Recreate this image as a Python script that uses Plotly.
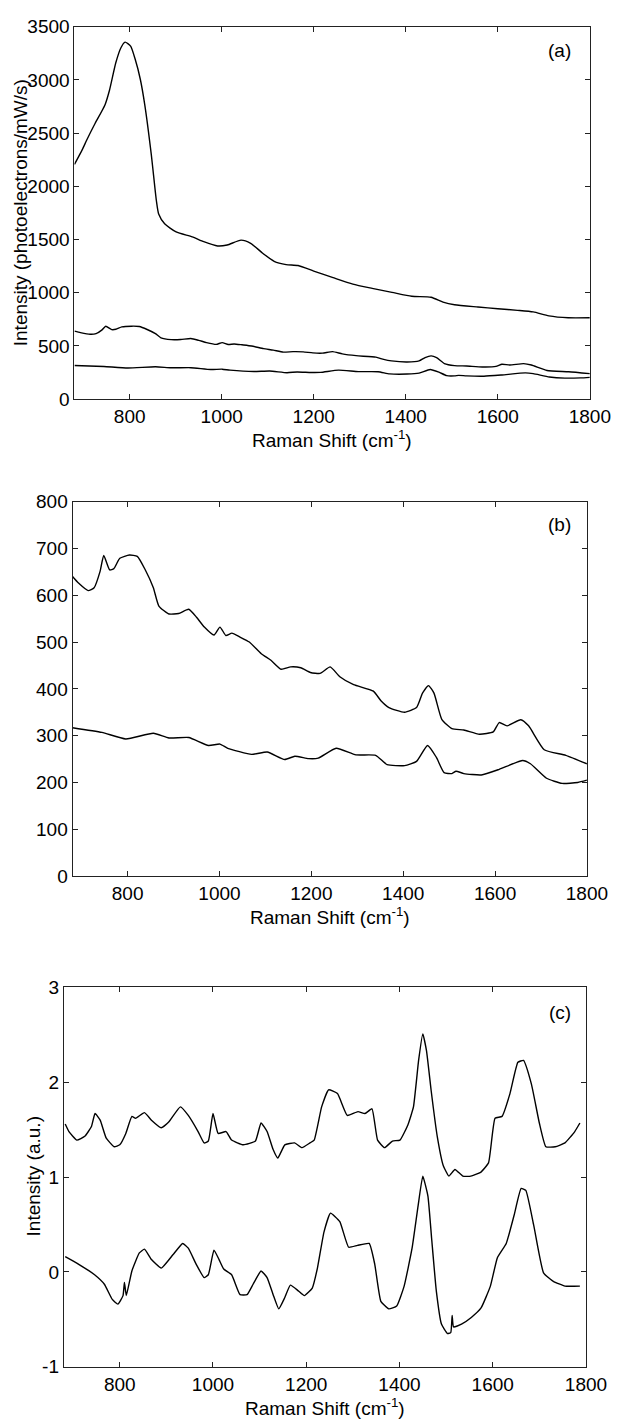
import plotly.graph_objects as go

# ---------------- data ----------------
# Panel (a) top spectrum (raw, with fluorescence)
a_top_x = [680, 697, 707, 725, 746, 756, 770, 781, 790, 802, 812, 823, 833, 847, 858, 863, 876,
           901, 936, 961, 991, 1012, 1042, 1063, 1089, 1114, 1140, 1166, 1200, 1242, 1285, 1327,
           1370, 1413, 1455, 1481, 1506, 1557, 1600, 1643, 1677, 1711, 1753, 1800]
a_top_y = [2206, 2345, 2438, 2593, 2762, 2901, 3164, 3303, 3355, 3318, 3194, 3009, 2762, 2299, 1867,
           1741, 1649, 1572, 1526, 1480, 1440, 1449, 1495, 1465, 1372, 1296, 1265, 1256, 1204, 1142,
           1081, 1041, 1004, 967, 958, 912, 887, 866, 850, 835, 820, 783, 765, 765]

# Panel (b) upper spectrum (also middle curve of panel a)
b_up_x = [680, 693, 714, 727, 740, 748, 761, 770, 783, 804, 821, 838, 856, 868, 890, 911, 933, 950,
          967, 988, 1001, 1014, 1027, 1044, 1065, 1091, 1112, 1134, 1155, 1177, 1198, 1219, 1241,
          1262, 1292, 1335, 1352, 1369, 1403, 1429, 1442, 1455, 1467, 1484, 1506, 1532, 1566, 1596,
          1609, 1626, 1656, 1673, 1707, 1754, 1800]
b_up_y = [640, 626, 610, 616, 651, 685, 654, 657, 679, 686, 683, 655, 616, 577, 560, 561, 570, 553,
          532, 515, 532, 514, 519, 511, 500, 475, 461, 442, 447, 445, 435, 433, 447, 426, 409, 395,
          374, 360, 350, 360, 391, 407, 391, 335, 315, 312, 303, 308, 328, 321, 334, 321, 270, 258, 240]

# Panel (b) lower spectrum (also bottom curve of panel a)
b_lo_x = [680, 744, 796, 856, 890, 933, 976, 1001, 1018, 1070, 1104, 1142, 1164, 1194, 1215, 1254,
          1297, 1340, 1365, 1403, 1429, 1453, 1472, 1489, 1506, 1515, 1532, 1570, 1609, 1660, 1677,
          1712, 1746, 1780, 1800]
b_lo_y = [317, 307, 293, 305, 295, 296, 279, 282, 273, 260, 265, 249, 256, 251, 252, 273, 259, 258,
          238, 236, 245, 279, 254, 221, 219, 224, 219, 216, 228, 247, 240, 209, 198, 200, 205]

# Panel (c) processed spectra
c_up_x = [683, 691, 708, 725, 739, 747, 758, 771, 788, 800, 813, 826, 834, 853, 868, 889, 905, 930,
          947, 968, 981, 990, 1000, 1011, 1028, 1040, 1065, 1091, 1103, 1116, 1129, 1139, 1154, 1175,
          1191, 1208, 1217, 1233, 1248, 1267, 1288, 1311, 1326, 1341, 1353, 1368, 1385, 1401, 1418,
          1430, 1441, 1450, 1458, 1468, 1481, 1494, 1506, 1519, 1536, 1553, 1574, 1591, 1605, 1620,
          1637, 1654, 1666, 1683, 1700, 1714, 1734, 1755, 1776, 1787]
c_up_y = [1.56, 1.48, 1.39, 1.43, 1.53, 1.67, 1.60, 1.41, 1.32, 1.34, 1.46, 1.64, 1.62, 1.68, 1.60,
          1.52, 1.58, 1.74, 1.65, 1.48, 1.36, 1.38, 1.67, 1.46, 1.48, 1.39, 1.34, 1.38, 1.57, 1.48,
          1.29, 1.20, 1.34, 1.36, 1.31, 1.36, 1.39, 1.74, 1.92, 1.88, 1.65, 1.69, 1.67, 1.72, 1.39,
          1.31, 1.38, 1.39, 1.55, 1.74, 2.23, 2.51, 2.33, 1.91, 1.43, 1.12, 1.01, 1.08, 1.01, 1.01,
          1.05, 1.15, 1.62, 1.64, 1.88, 2.21, 2.23, 1.98, 1.57, 1.32, 1.32, 1.36, 1.48, 1.57]

c_lo_x = [683, 712, 746, 767, 784, 796, 807, 810, 814, 826, 842, 853, 868, 889, 914, 935, 947, 964,
          981, 990, 1002, 1013, 1023, 1040, 1058, 1073, 1086, 1103, 1116, 1129, 1141, 1154, 1166,
          1183, 1196, 1213, 1224, 1238, 1252, 1272, 1291, 1310, 1335, 1347, 1360, 1377, 1394, 1410,
          1427, 1440, 1450, 1461, 1469, 1479, 1490, 1503, 1510, 1513, 1516, 1533, 1554, 1575, 1595,
          1610, 1629, 1646, 1661, 1671, 1688, 1709, 1730, 1755, 1787]
c_lo_y = [0.16, 0.08, -0.03, -0.13, -0.29, -0.34, -0.25, -0.11, -0.25, 0.01, 0.20, 0.24, 0.13, 0.04,
          0.18, 0.30, 0.25, 0.08, -0.06, -0.03, 0.23, 0.13, 0.03, -0.03, -0.24, -0.24, -0.13, 0.01,
          -0.06, -0.24, -0.39, -0.27, -0.14, -0.20, -0.25, -0.17, 0.04, 0.42, 0.62, 0.53, 0.26, 0.28,
          0.30, 0.08, -0.31, -0.39, -0.36, -0.15, 0.25, 0.70, 1.01, 0.80, 0.35, -0.20, -0.55, -0.65,
          -0.64, -0.46, -0.58, -0.55, -0.48, -0.38, -0.15, 0.15, 0.30, 0.60, 0.88, 0.86, 0.49, -0.01,
          -0.10, -0.15, -0.15]

x_ticks = [800, 1000, 1200, 1400, 1600, 1800]
a_yticks = [0, 500, 1000, 1500, 2000, 2500, 3000, 3500]
b_yticks = [0, 100, 200, 300, 400, 500, 600, 700, 800]
c_yticks = [-1, 0, 1, 2, 3]
c_yticktext = ["-1", "0", "1", "2", "3"]
panel_labels = ["(a)", "(b)", "(c)"]
x_title = "Raman Shift (cm<sup>-1</sup>)"
a_ytitle = "Intensity (photoelectrons/mW/s)"
c_ytitle = "Intensity (a.u.)"

# ---------------- figure ----------------
W, H = 635, 1427
FONT = "Liberation Sans, Arial, Helvetica, sans-serif"
FS = 19
fig = go.Figure()
line = dict(color="black", width=1.4)

fig.add_trace(go.Scatter(x=a_top_x, y=a_top_y, mode="lines", line=dict(**line, shape="spline", smoothing=0.6),
                         xaxis="x", yaxis="y", showlegend=False))
fig.add_trace(go.Scatter(x=b_up_x, y=b_up_y, mode="lines", line=dict(**line, shape="spline", smoothing=0.5),
                         xaxis="x", yaxis="y", showlegend=False))
fig.add_trace(go.Scatter(x=b_lo_x, y=b_lo_y, mode="lines", line=dict(**line, shape="spline", smoothing=0.5),
                         xaxis="x", yaxis="y", showlegend=False))
fig.add_trace(go.Scatter(x=b_up_x, y=b_up_y, mode="lines", line=dict(**line, shape="spline", smoothing=0.5),
                         xaxis="x2", yaxis="y2", showlegend=False))
fig.add_trace(go.Scatter(x=b_lo_x, y=b_lo_y, mode="lines", line=dict(**line, shape="spline", smoothing=0.5),
                         xaxis="x2", yaxis="y2", showlegend=False))
fig.add_trace(go.Scatter(x=c_up_x, y=c_up_y, mode="lines", line=dict(**line, shape="spline", smoothing=0.4),
                         xaxis="x3", yaxis="y3", showlegend=False))
fig.add_trace(go.Scatter(x=c_lo_x, y=c_lo_y, mode="lines", line=dict(**line, shape="spline", smoothing=0.4),
                         xaxis="x3", yaxis="y3", showlegend=False))


def px_x(p):
    return p / W


def px_y(p):
    return 1 - p / H


panels = [
    dict(x0=77, x1=610, top=17, bot=395, yr=[0, 3500], yt=a_yticks, ytt=[str(v) for v in a_yticks]),
    dict(x0=75, x1=607, top=499, bot=879, yr=[0, 800], yt=b_yticks, ytt=[str(v) for v in b_yticks]),
    dict(x0=66, x1=606, top=992, bot=1377, yr=[-1, 3], yt=c_yticks, ytt=c_yticktext),
]

axis_common = dict(showgrid=False, zeroline=False, showline=True, linecolor="#222", linewidth=1,
                   mirror="ticks", ticks="inside", ticklen=5, tickwidth=1, tickcolor="#222",
                   tickfont=dict(family=FONT, size=FS, color="black"))

layout = dict(width=W, height=H, margin=dict(l=0, r=0, t=0, b=0),
              paper_bgcolor="white", plot_bgcolor="white", showlegend=False)

for i, p in enumerate(panels):
    sfx = "" if i == 0 else str(i + 1)
    layout["xaxis" + sfx] = dict(axis_common, domain=[px_x(p["x0"]), px_x(p["x1"])], range=[680, 1800],
                                 tickvals=x_ticks, anchor="y" + sfx)
    layout["yaxis" + sfx] = dict(axis_common, domain=[px_y(p["bot"]), px_y(p["top"])], range=p["yr"],
                                 tickvals=p["yt"], ticktext=p["ytt"], anchor="x" + sfx)

fig.update_layout(**layout)

ann = []
title_y = [435, 920, 1418]
label_pos = [(579, 41), (579, 522), (579, 1017)]
for i, p in enumerate(panels):
    ann.append(dict(text=x_title, x=px_x((p["x0"] + p["x1"]) / 2), y=px_y(title_y[i]), xref="paper", yref="paper",
                    xanchor="center", yanchor="middle", showarrow=False,
                    font=dict(family=FONT, size=FS, color="black")))
    ann.append(dict(text=panel_labels[i], x=px_x(label_pos[i][0]), y=px_y(label_pos[i][1]), xref="paper",
                    yref="paper", xanchor="center", yanchor="middle", showarrow=False,
                    font=dict(family=FONT, size=FS, color="black")))
ann.append(dict(text=a_ytitle, x=px_x(22), y=px_y(206), xref="paper", yref="paper", textangle=-90,
                xanchor="center", yanchor="middle", showarrow=False,
                font=dict(family=FONT, size=FS, color="black")))
ann.append(dict(text=c_ytitle, x=px_x(35), y=px_y(1184), xref="paper", yref="paper", textangle=-90,
                xanchor="center", yanchor="middle", showarrow=False,
                font=dict(family=FONT, size=FS, color="black")))
fig.update_layout(annotations=ann)

fig.write_html("out.html")
